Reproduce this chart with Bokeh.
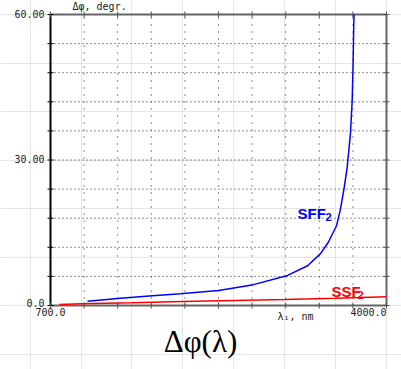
import math
from bokeh.plotting import figure
from bokeh.models import Range1d, Label
from bokeh.embed import file_html
from bokeh.resources import INLINE

# Data (wavelength in nm, phase difference in degrees)
sff2_wl = [1063, 1388, 1702, 1977, 2350, 2694, 3028, 3225, 3352, 3430, 3510, 3545, 3580, 3614, 3646, 3663, 3672, 3678, 3681]
sff2_dphi = [0.89, 1.5, 2.0, 2.41, 3.09, 4.3, 6.2, 8.2, 10.7, 13.1, 16.5, 19.6, 23.7, 28.5, 35.5, 42.3, 50.0, 57.5, 60.0]
ssf2_wl = [788, 1000, 1500, 2000, 2500, 3000, 3500, 4000]
ssf2_dphi = [0.2, 0.35, 0.55, 0.85, 1.05, 1.25, 1.5, 1.8]
x_ticks = [700 + 330 * k for k in range(11)]
y_ticks = [6 * k for k in range(11)]
y_tick_labels = {0: "0.0", 30: "30.00", 60: "60.00"}
x_tick_labels = {700: "700.0", 4000: "4000.0"}

XMIN, XMAX, YMIN, YMAX = 700, 4000, 0, 60
W, H = 401, 369
L, R, T, B = 50, 386, 14, 305          # plot area in pixels
sx = (XMAX - XMIN) / (R - L)
sy = (YMAX - YMIN) / (B - T)

p = figure(width=W, height=H, output_backend="svg", toolbar_location=None,
           x_range=Range1d(XMIN - L * sx, XMAX + (W - R) * sx),
           y_range=Range1d(YMIN - (H - B) * sy, YMAX + T * sy),
           x_axis_location=None, y_axis_location=None,
           min_border=0)
p.background_fill_color = "white"
p.border_fill_color = "white"
p.outline_line_color = None

# dotted grid
inner_x = x_ticks[1:-1]
inner_y = y_ticks[1:-1]
p.segment(x0=inner_x, y0=[YMIN] * len(inner_x), x1=inner_x, y1=[YMAX] * len(inner_x),
          line_color="#222222", line_width=1, line_dash="1 6")
p.segment(x0=[XMIN] * len(inner_y), y0=inner_y, x1=[XMAX] * len(inner_y), y1=inner_y,
          line_color="#222222", line_width=1, line_dash="1 3")

# frame
p.segment(x0=[XMIN, XMAX, XMIN], y0=[YMAX, YMIN, YMIN], x1=[XMAX, XMAX, XMAX], y1=[YMAX, YMAX, YMIN],
          line_color="#666666", line_width=2)
p.segment(x0=[XMIN], y0=[YMIN], x1=[XMIN], y1=[YMAX], line_color="black", line_width=2)

# tick marks
p.scatter([XMIN] * len(y_ticks), y_ticks, marker="dash", size=6, line_color="black", line_width=1)
p.scatter([XMAX] * len(y_ticks), y_ticks, marker="dash", size=6, line_color="#555555", line_width=1)
p.scatter(x_ticks, [YMAX] * len(x_ticks), marker="dash", size=6, angle=math.pi / 2, line_color="#555555", line_width=1)
p.scatter(x_ticks, [YMIN] * len(x_ticks), marker="dash", size=6, angle=math.pi / 2, line_color="#555555", line_width=1)

# curves
p.line(sff2_wl, sff2_dphi, line_color="#0000ff", line_width=1.5)
p.line(ssf2_wl, ssf2_dphi, line_color="#ff0000", line_width=1.5)

mono = "DejaVu Sans Mono"
def lab(text, x, y, units="data", align="left", base="middle", size="10px", font=mono,
        color="#222222", style="normal", xo=0, yo=0):
    p.add_layout(Label(x=x, y=y, x_units=units, y_units=units, x_offset=xo, y_offset=yo, text=text,
                       text_align=align, text_baseline=base,
                       text_font=font, text_font_size=size, text_color=color, text_font_style=style))

# tick labels
for v, t in y_tick_labels.items():
    lab(t, XMIN, v, align="right", xo=-6, yo=(3 if v == 0 else 1))
lab(x_tick_labels[700], 700, YMIN, align="center", base="top", yo=-2)
lab(x_tick_labels[4000], 4000, YMIN, align="right", base="top", yo=-2)

# axis titles
lab("Δφ, degr.", 72, 6, units="canvas")
lab("λ₁, nm", 277, 316, units="canvas")

# series labels
lab("SFF", 297, 213, units="canvas", base="alphabetic", size="15px", font="Liberation Sans", color="#0000ff", style="bold")
lab("2", 325, 216, units="canvas", base="alphabetic", size="11px", font="Liberation Sans", color="#0000ff", style="bold")
lab("SSF", 331, 291, units="canvas", base="alphabetic", size="15px", font="Liberation Sans", color="#ff0000", style="bold")
lab("2", 357, 294, units="canvas", base="alphabetic", size="11px", font="Liberation Sans", color="#ff0000", style="bold")

# title
lab("Δφ(λ)", 200, 341, units="canvas", align="center", size="31px", font="Liberation Serif", color="black")

open("out.html", "w").write(file_html(p, INLINE))
